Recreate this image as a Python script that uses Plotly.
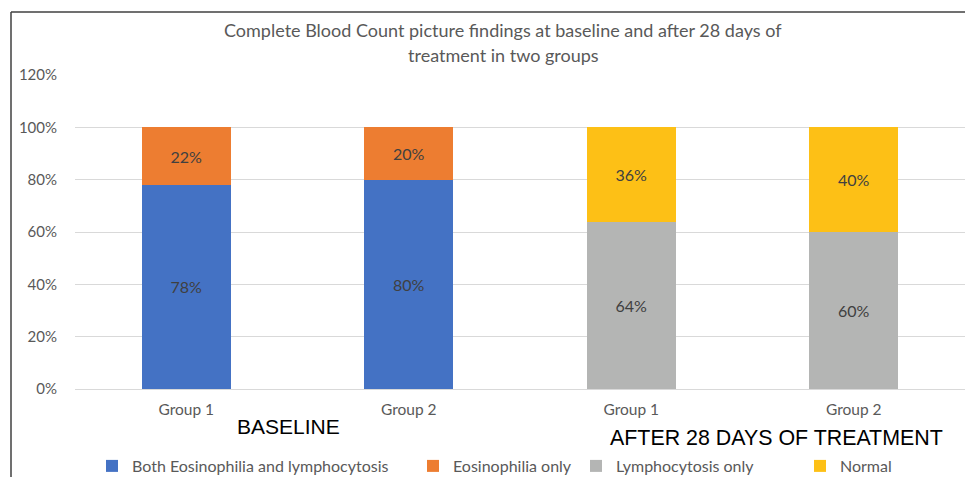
import plotly.graph_objects as go

# Category positions and their tick labels
positions = [0, 1, 2, 3]
group_labels = ["Group 1", "Group 2", "Group 1", "Group 2"]

# Share of patients per finding (fraction of group)
both_eos_lymph = [0.78, 0.80, None, None]
eos_only = [0.22, 0.20, None, None]
lymph_only = [None, None, 0.64, 0.60]
normal = [None, None, 0.36, 0.40]

series = [
    ("Both Eosinophilia and lymphocytosis", both_eos_lymph, "#4472C4"),
    ("Eosinophilia only", eos_only, "#ED7D31"),
    ("Lymphocytosis only", lymph_only, "#B4B5B4"),
    ("Normal", normal, "#FDC016"),
]

phase_labels = ["BASELINE", "AFTER 28 DAYS OF TREATMENT"]

FONT = "Lato"
GREY = "#595959"

# Plot-area geometry in pixels (used to place paper-referenced items)
L, T, B, W, H = 75, 75, 88, 965, 477
PW, PH = W - L, H - T - B
Y0 = T + PH  # pixel row of the 0% baseline


def px_x(x):
    return (x - L) / PW


def px_y(y):
    return (Y0 - y) / PH


# Left edge (px) of each legend entry's text
legend_text_x = [128, 449, 612, 836]
legend_ids = ["legend", "legend2", "legend3", "legend4"]

fig = go.Figure()
for (name, vals, color), lid in zip(series, legend_ids):
    fig.add_trace(go.Bar(
        x=positions,
        y=vals,
        name=name,
        legend=lid,
        marker=dict(color=color, line=dict(width=0)),
        width=0.4,
        text=[f"{v:.0%}" if v is not None else "" for v in vals],
        textposition="inside",
        insidetextanchor="middle",
        textfont=dict(family=FONT, size=16, color="#404040"),
        hoverinfo="skip",
    ))

legend_style = {}
for lid, tx in zip(legend_ids, legend_text_x):
    legend_style[lid] = dict(
        orientation="h",
        x=px_x(tx - 36), y=px_y(466),
        xanchor="left", yanchor="middle",
        font=dict(family=FONT, size=16, color=GREY),
        bgcolor="rgba(0,0,0,0)",
    )

fig.update_layout(
    width=W,
    height=H,
    barmode="stack",
    plot_bgcolor="white",
    paper_bgcolor="white",
    margin=dict(l=L, r=0, t=T, b=B, autoexpand=False),
    showlegend=True,
    **legend_style,
    xaxis=dict(
        range=[-0.5, 3.5],
        tickmode="array",
        tickvals=positions,
        ticktext=group_labels,
        tickfont=dict(family=FONT, size=15.5, color=GREY),
        ticklabelstandoff=9,
        showgrid=False,
        zeroline=False,
        showline=False,
        ticks="",
        ticklen=0,
    ),
    yaxis=dict(
        range=[0, 1.2],
        dtick=0.2,
        tickformat=".0%",
        tickfont=dict(family=FONT, size=15, color=GREY),
        showgrid=True,
        gridcolor="#D9D9D9",
        gridwidth=1,
        zeroline=True,
        zerolinecolor="#D9D9D9",
        zerolinewidth=1,
        showline=False,
        ticks="outside",
        ticklen=14,
        tickcolor="rgba(0,0,0,0)",
    ),
)

# Chart title (two lines)
fig.add_annotation(
    text="Complete Blood Count picture findings at baseline and after 28 days of",
    xref="paper", yref="paper", x=px_x(503), y=px_y(30),
    showarrow=False, xanchor="center", yanchor="middle",
    font=dict(family=FONT, size=18, color=GREY),
)
fig.add_annotation(
    text="treatment in two groups",
    xref="paper", yref="paper", x=px_x(503), y=px_y(55),
    showarrow=False, xanchor="center", yanchor="middle",
    font=dict(family=FONT, size=18, color=GREY),
)

# Phase labels under the groups
fig.add_annotation(
    text=phase_labels[0], xref="x", yref="paper", x=0.46, y=px_y(426),
    showarrow=False, xanchor="center", yanchor="middle",
    font=dict(family="Liberation Sans", size=21, color="black"),
)
fig.add_annotation(
    text=phase_labels[1], xref="x", yref="paper", x=2.655, y=px_y(438),
    showarrow=False, xanchor="center", yanchor="middle",
    font=dict(family="Liberation Sans", size=21.4, color="black"),
)

# Frame lines along the top and left edge
fig.add_shape(type="line", xref="paper", yref="paper",
              x0=px_x(11), x1=px_x(W + 5), y0=px_y(12), y1=px_y(12),
              line=dict(color="#404040", width=1.5))
fig.add_shape(type="line", xref="paper", yref="paper",
              x0=px_x(11), x1=px_x(11), y0=px_y(12), y1=px_y(H + 5),
              line=dict(color="#404040", width=1.5))

fig.write_html("out.html")
